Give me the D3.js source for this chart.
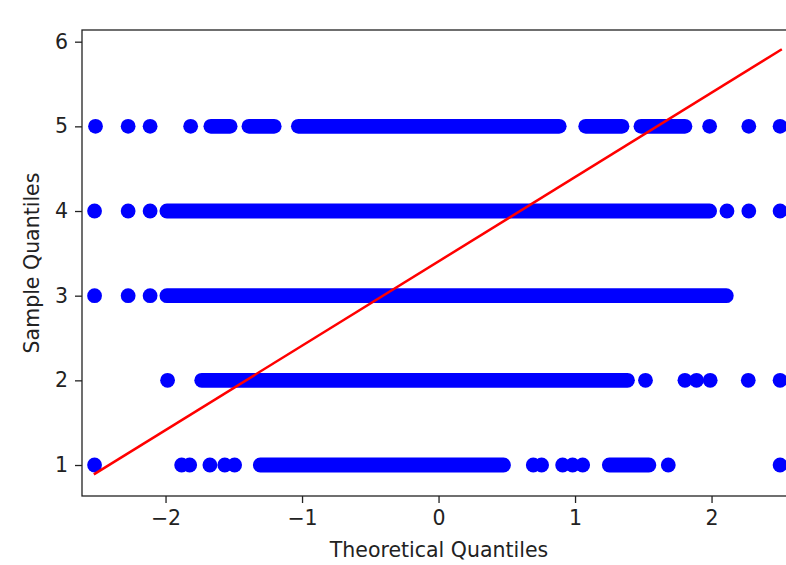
<!DOCTYPE html>
<html>
<head>
<meta charset="utf-8">
<script src="https://cdn.jsdelivr.net/npm/d3@7"></script>
<style>
  html, body { margin: 0; padding: 0; background: #fff; overflow: hidden; }
  svg { display: block; font-family: "DejaVu Sans", sans-serif; }
</style>
</head>
<body>
<svg id="chart" width="786" height="565"></svg>
<script>
// sample levels (y) and theoretical quantile positions (x)
var levels = [1, 2, 3, 4, 5];

// single dots per level
var dots1 = [-2.52, -1.882, -1.823, -1.675, -1.566, -1.494, 0.694, 0.755, 0.909, 0.982, 1.056, 1.683, 2.502];
var dots2 = [-1.985, 1.516, 1.805, 1.89, 1.99, 2.269, 2.502];
var dots3 = [-2.52, -2.274, -2.113];
var dots4 = [-2.52, -2.274, -2.113, 2.113, 2.273, 2.502];
var dots5 = [-2.513, -2.274, -2.113, -1.816, 1.986, 2.273, 2.502];

// dense runs of overlapping dots, [from, to]
var runs1 = [[-1.306, 0.476], [1.251, 1.541]];
var runs2 = [[-1.735, 1.384]];
var runs3 = [[-1.99, 2.108]];
var runs4 = [[-1.99, 1.986]];
var runs5 = [[-1.668, -1.527], [-1.389, -1.204], [-1.027, 0.884], [1.078, 1.344], [1.483, 1.805]];

// fitted reference line end points
var lineX = [-2.525, 2.515];
var lineY = [0.89, 5.91];

var xTicks = [-2, -1, 0, 1, 2];
var yTicks = [1, 2, 3, 4, 5, 6];

var allDots = [dots1, dots2, dots3, dots4, dots5];
var allRuns = [runs1, runs2, runs3, runs4, runs5];

var pLeft = 82, pRight = 800, pTop = 30, pBottom = 496;
var r = 7.4;

var svg = d3.select("#chart");

var x = d3.scaleLinear().domain([-2.612, 2.648]).range([pLeft, pRight]);
var y = d3.scaleLinear().domain([0.634, 6.138]).range([pBottom, pTop]);

svg.append("defs").append("clipPath").attr("id", "plotclip")
   .append("rect")
   .attr("x", pLeft).attr("y", pTop)
   .attr("width", pRight - pLeft).attr("height", pBottom - pTop);

var plot = svg.append("g").attr("clip-path", "url(#plotclip)");

// runs drawn as solid bars with round ends
levels.forEach(function(lev, i){
	var g = plot.append("g").attr("fill", "#0000ff");
	g.selectAll("rect.run")
	  .data(allRuns[i])
	  .enter().append("rect")
	  .attr("class", "run")
	  .attr("x", function(d){ return x(d[0]) - r; })
	  .attr("y", y(lev) - r)
	  .attr("width", function(d){ return x(d[1]) - x(d[0]) + 2 * r; })
	  .attr("height", 2 * r)
	  .attr("rx", r).attr("ry", r);

	g.selectAll("circle")
	  .data(allDots[i])
	  .enter().append("circle")
	  .attr("cx", function(d){ return x(d); })
	  .attr("cy", y(lev))
	  .attr("r", r);
});

plot.append("line")
    .attr("x1", x(lineX[0])).attr("y1", y(lineY[0]))
    .attr("x2", x(lineX[1])).attr("y2", y(lineY[1]))
    .style("stroke", "#ff0000")
    .style("stroke-width", "2.5px");

// frame
svg.append("rect")
   .attr("x", pLeft).attr("y", pTop)
   .attr("width", pRight - pLeft).attr("height", pBottom - pTop)
   .attr("fill", "none")
   .attr("stroke", "#222")
   .attr("stroke-width", 1.3);

var fmt = d3.format("d");

var xAxis = svg.append("g")
   .attr("transform", "translate(0," + pBottom + ")")
   .call(d3.axisBottom(x).tickValues(xTicks).tickFormat(fmt).tickSize(7).tickSizeOuter(0).tickPadding(7));

var yAxis = svg.append("g")
   .attr("transform", "translate(" + pLeft + ",0)")
   .call(d3.axisLeft(y).tickValues(yTicks).tickFormat(fmt).tickSize(7).tickSizeOuter(0).tickPadding(7));

[xAxis, yAxis].forEach(function(ax){
	ax.select(".domain").remove();
	ax.selectAll(".tick line").attr("stroke", "#222").attr("stroke-width", 1.3);
	ax.selectAll(".tick text")
	  .attr("fill", "#222")
	  .style("font-family", "DejaVu Sans, sans-serif")
	  .style("font-size", "20.5px");
});

svg.append("text")
   .attr("x", (pLeft + pRight) / 2 - 2)
   .attr("y", 557)
   .attr("text-anchor", "middle")
   .attr("fill", "#222")
   .style("font-size", "20.5px")
   .text("Theoretical Quantiles");

svg.append("text")
   .attr("transform", "translate(39," + ((pTop + pBottom) / 2) + ") rotate(-90)")
   .attr("text-anchor", "middle")
   .attr("fill", "#222")
   .style("font-size", "20.5px")
   .text("Sample Quantiles");
</script>
</body>
</html>
